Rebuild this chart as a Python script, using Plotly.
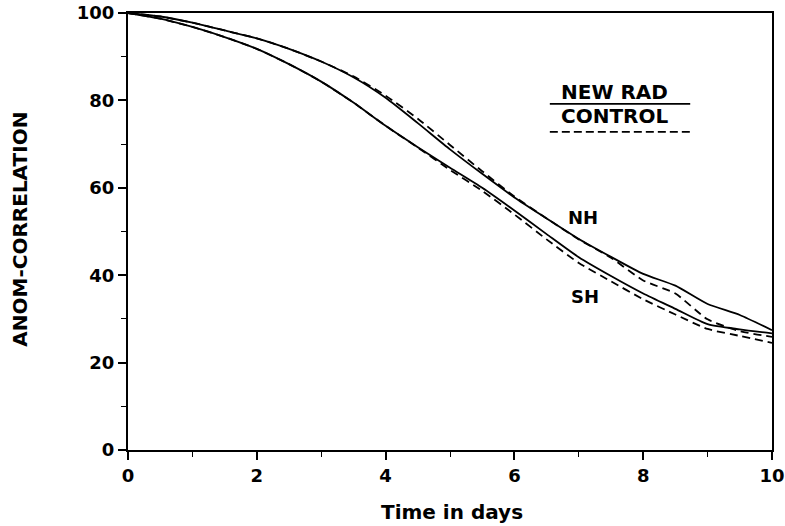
import plotly.graph_objects as go

days = [0, 0.5, 1, 1.5, 2, 2.5, 3, 3.5, 4, 4.5, 5, 5.5, 6, 6.5, 7, 7.5, 8, 8.5, 9, 9.5, 10]

nh_newrad = [100, 99.2, 97.8, 96.0, 94.2, 91.8, 88.9, 85.3, 80.6, 74.8, 68.8, 63.2, 57.8, 53.0, 48.3, 44.2, 40.3, 37.6, 33.4, 30.9, 27.4]
nh_control = [100, 99.2, 97.8, 96.0, 94.2, 91.8, 88.9, 85.5, 81.1, 75.8, 69.8, 63.8, 58.0, 53.0, 48.2, 44.0, 38.8, 35.8, 29.9, 27.2, 25.9]
sh_newrad = [100, 98.7, 96.8, 94.5, 91.8, 88.3, 84.3, 79.5, 74.2, 69.3, 64.6, 60.0, 54.8, 49.4, 44.1, 39.8, 35.8, 32.3, 28.8, 27.6, 26.7]
sh_control = [100, 98.7, 96.8, 94.5, 91.8, 88.3, 84.3, 79.5, 74.2, 69.2, 64.1, 59.3, 53.9, 48.2, 42.8, 38.6, 34.5, 31.0, 27.7, 26.1, 24.5]

x_ticks = [0, 2, 4, 6, 8, 10]
y_ticks = [0, 20, 40, 60, 80, 100]

FONT = "DejaVu Sans"
fig = go.Figure()

def add(y, dash):
    fig.add_trace(go.Scatter(x=days, y=y, mode="lines",
                             line=dict(color="black", width=1.8, dash=dash,
                                       shape="spline", smoothing=0.6),
                             showlegend=False, hoverinfo="skip"))

add(nh_control, "8px,5px")
add(sh_control, "8px,5px")
add(nh_newrad, "solid")
add(sh_newrad, "solid")

lab = dict(family=FONT, size=18, color="black")
key = dict(family=FONT, size=20, color="black")
# legend-like key
fig.add_annotation(x=7.55, y=82.0, text="<b>NEW RAD</b>", showarrow=False, font=key)
fig.add_shape(type="line", x0=6.55, x1=8.73, y0=79.2, y1=79.2,
              line=dict(color="black", width=1.6))
fig.add_annotation(x=7.56, y=76.5, text="<b>CONTROL</b>", showarrow=False, font=key)
fig.add_shape(type="line", x0=6.55, x1=8.76, y0=72.8, y1=72.8,
              line=dict(color="black", width=1.6, dash="8px,4px"))

fig.add_annotation(x=7.07, y=53.3, text="<b>NH</b>", showarrow=False, font=lab)
fig.add_annotation(x=7.09, y=35.2, text="<b>SH</b>", showarrow=False, font=lab)

# axis titles
fig.add_annotation(xref="paper", yref="paper", x=-0.168, y=0.506,
                   xanchor="center", yanchor="middle",
                   text="<b>ANOM-CORRELATION</b>", textangle=-90, showarrow=False,
                   font=dict(family=FONT, size=20, color="black"))
fig.add_annotation(xref="paper", yref="paper", x=0.503, y=-0.143,
                   xanchor="center", yanchor="middle",
                   text="<b>Time in days</b>", showarrow=False,
                   font=dict(family=FONT, size=20, color="black"))

fig.update_layout(
    width=785, height=526,
    margin=dict(l=128, r=13, t=13, b=76),
    paper_bgcolor="white", plot_bgcolor="white",
    font=dict(family=FONT, color="black"),
)
fig.update_xaxes(
    range=[0, 10], tickvals=x_ticks, ticktext=[f"<b>{v}</b>" for v in x_ticks],
    automargin=False,
    showgrid=False, zeroline=False, showline=True, linecolor="black", linewidth=2,
    mirror=True, ticks="outside", ticklen=8, tickwidth=1.5, tickcolor="black",
    minor=dict(ticks="outside", dtick=1, ticklen=5, tickwidth=1.2, tickcolor="black"),
    tickfont=dict(family=FONT, size=18, color="black"),
)
fig.update_yaxes(
    range=[0, 100], tickvals=y_ticks, ticktext=[f"<b>{v}</b>" for v in y_ticks],
    automargin=False,
    showgrid=False, zeroline=False, showline=True, linecolor="black", linewidth=2,
    mirror=True, ticks="outside", ticklen=8, tickwidth=1.5, tickcolor="black",
    minor=dict(ticks="outside", dtick=10, ticklen=5, tickwidth=1.2, tickcolor="black"),
    tickfont=dict(family=FONT, size=18, color="black"),
)

fig.write_html("out.html")
